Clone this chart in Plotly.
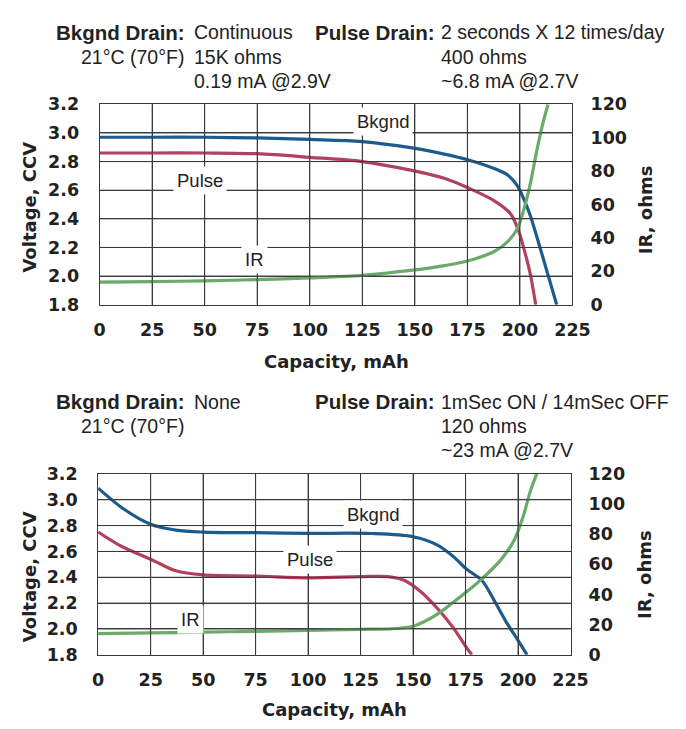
import plotly.graph_objects as go

W, H = 686, 729

# ---------------- data: top chart (continuous background drain) ----------------
cap_top_bkgnd = [0, 25, 50, 75, 100, 125, 148, 164, 175.5, 188, 194.3, 198.8, 201.9, 205, 209.6, 217.5]
volt_top_bkgnd = [2.97, 2.97, 2.97, 2.965, 2.955, 2.94, 2.897, 2.852, 2.811, 2.75, 2.705, 2.63, 2.536, 2.42, 2.197, 1.8]

cap_top_pulse = [0, 25, 50, 75, 100, 125, 148, 164, 175.5, 188, 195.6, 199.5, 201.8, 204.9, 207.5]
volt_top_pulse = [2.86, 2.86, 2.86, 2.855, 2.83, 2.80, 2.74, 2.683, 2.615, 2.524, 2.434, 2.31, 2.197, 2.016, 1.8]

cap_top_ir = [0, 25, 50, 75, 100, 125, 148, 164, 175.5, 188, 194.3, 198.8, 201.9, 205, 208, 211.1, 213.4]
ir_top = [13.5, 13.8, 14.3, 15.0, 16.0, 17.5, 20.5, 23.4, 26.3, 32.0, 37.9, 45.6, 57.2, 72.8, 92.1, 109.5, 120]

# ---------------- data: bottom chart (no background drain) ----------------
cap_bot_bkgnd = [0, 12, 25, 37, 50, 75, 100, 130, 150, 161.4, 169, 175.5, 182.8, 188.9, 195, 200, 204.3]
volt_bot_bkgnd = [3.09, 2.93, 2.81, 2.765, 2.75, 2.745, 2.74, 2.739, 2.714, 2.651, 2.563, 2.463, 2.375, 2.213, 2.037, 1.912, 1.8]

cap_bot_pulse = [0, 11, 25, 37, 50, 75, 100, 125, 138, 146, 153.7, 161.4, 169, 175.2, 178]
volt_bot_pulse = [2.75, 2.64, 2.54, 2.45, 2.418, 2.41, 2.395, 2.405, 2.405, 2.375, 2.288, 2.162, 2.012, 1.862, 1.8]

cap_bot_ir = [0, 25, 50, 75, 100, 125, 140, 150, 156, 161.4, 175.5, 182.8, 192, 198.2, 202.8, 205.8, 208.9]
ir_bot = [14.1, 14.5, 15.0, 15.6, 16.2, 16.9, 17.3, 19.0, 22.5, 26.8, 41.8, 50.4, 63.3, 76.2, 93.4, 108.4, 120]

x_ticks = [0, 25, 50, 75, 100, 125, 150, 175, 200, 225]
volt_ticks = [1.8, 2.0, 2.2, 2.4, 2.6, 2.8, 3.0, 3.2]
ir_ticks = [0, 20, 40, 60, 80, 100, 120]

BLUE = "#1b5b8e"
RED = "#b2415e"
GREEN = "#6aaa6a"
GRID = "#3a3a3a"
TXT = "#222222"

fig = go.Figure()


def add(x, y, color, xa, ya):
    fig.add_trace(go.Scatter(
        x=x, y=y, mode="lines",
        line=dict(color=color, width=3.2, shape="spline", smoothing=0.9),
        xaxis=xa, yaxis=ya, showlegend=False))


add(cap_top_pulse, volt_top_pulse, RED, "x", "y")
add(cap_top_bkgnd, volt_top_bkgnd, BLUE, "x", "y")
add(cap_bot_pulse, volt_bot_pulse, RED, "x2", "y3")
add(cap_bot_bkgnd, volt_bot_bkgnd, BLUE, "x2", "y3")
add(cap_top_ir, ir_top, GREEN, "x", "y2")
add(cap_bot_ir, ir_bot, GREEN, "x2", "y4")

TF = dict(family="DejaVu Sans", size=17.5, color=TXT, weight="bold")


def px(v):
    return v / W


def py(v):
    return 1 - v / H


def xaxis(domain, anchor):
    return dict(domain=domain, anchor=anchor, range=[0, 225], tickvals=x_ticks,
                showgrid=True, gridcolor=GRID, gridwidth=1, zeroline=False,
                showline=True, linecolor=GRID, linewidth=1, mirror=True,
                ticks="", tickfont=TF, ticklabelstandoff=9, fixedrange=True)


def vaxis(domain, anchor):
    return dict(domain=domain, anchor=anchor, range=[1.8, 3.2], tickvals=volt_ticks,
                tickformat=".1f", showgrid=True, gridcolor=GRID, gridwidth=1,
                zeroline=False, showline=True, linecolor=GRID, linewidth=1, mirror=True,
                ticks="", tickfont=TF, ticklabelstandoff=16, fixedrange=True)


def iraxis(over, anchor):
    return dict(overlaying=over, anchor=anchor, side="right", range=[0, 120],
                tickvals=ir_ticks, showgrid=False, zeroline=False,
                ticks="", tickfont=TF, ticklabelstandoff=17, fixedrange=True)


fig.update_layout(
    width=W, height=H, margin=dict(l=0, r=0, t=0, b=0),
    paper_bgcolor="white", plot_bgcolor="rgba(0,0,0,0)", showlegend=False,
    xaxis=xaxis([px(97), px(587)], "y"), yaxis=vaxis([py(303), py(97)], "x"),
    yaxis2=iraxis("y", "x"),
    xaxis2=xaxis([px(95.5), px(585)], "y3"), yaxis3=vaxis([py(663), py(477)], "x2"),
    yaxis4=iraxis("y3", "x2"),
)

# grid lines at the tick values, drawn through the axes' own scales
shapes = []
for xr, yr in [("x", "y"), ("x2", "y3")]:
    for v in x_ticks[1:-1]:
        shapes.append(dict(type="line", xref=xr, yref=f"{yr} domain", x0=v, x1=v, y0=0, y1=1,
                           line=dict(color=GRID, width=1), layer="above"))
    for v in volt_ticks[1:-1]:
        shapes.append(dict(type="line", xref=f"{xr} domain", yref=yr, x0=0, x1=1, y0=v, y1=v,
                           line=dict(color=GRID, width=1), layer="above"))
fig.update_layout(shapes=shapes)

HF = dict(family="Liberation Sans", size=19.5, color=TXT)
anns = []


def txt(t, x, y, anchor="left", bold=False, size=None, font=None, angle=0):
    f = dict(font or HF)
    if bold:
        f["weight"] = "bold"
    if size:
        f["size"] = size
    anns.append(dict(text=t, x=px(x), y=py(y), xref="paper", yref="paper",
                     xanchor=anchor, yanchor="middle", showarrow=False,
                     font=f, textangle=angle))


# header, top chart
txt("Bkgnd Drain:", 188, 23, "right", bold=True, size=20.5)
txt("Continuous", 193, 23)
txt("21°C (70°F)", 187, 48, "right")
txt("15K ohms", 193, 48)
txt("0.19 mA @2.9V", 193, 73)
txt("Pulse Drain:", 447, 23, "right", bold=True, size=20.5)
txt("2 seconds X 12 times/day", 449, 23)
txt("400 ohms", 449, 48)
txt("~6.8 mA @2.7V", 449, 73)

# header, bottom chart
txt("Bkgnd Drain:", 188, 403, "right", bold=True, size=20.5)
txt("None", 193, 403)
txt("21°C (70°F)", 187, 428, "right")
txt("Pulse Drain:", 447, 403, "right", bold=True, size=20.5)
txt("1mSec ON / 14mSec OFF", 449, 403)
txt("120 ohms", 449, 428)
txt("~23 mA @2.7V", 449, 452)

# axis titles
TT = dict(family="DejaVu Sans", size=18, color=TXT)
txt("Voltage, CCV", 24, 203, "center", bold=True, font=TT, angle=-90)
txt("IR, ohms", 663, 205, "center", bold=True, font=TT, angle=-90)
txt("Capacity, mAh", 342, 361, "center", bold=True, font=TT)
txt("Voltage, CCV", 24, 583, "center", bold=True, font=TT, angle=-90)
txt("IR, ohms", 661, 580, "center", bold=True, font=TT, angle=-90)
txt("Capacity, mAh", 340, 719, "center", bold=True, font=TT)

# in-plot curve labels (white boxes interrupt the grid, as in the original)
LF = dict(family="Liberation Sans", size=18.5, color=TXT)
for (t, xv, yv, xr, yr) in [
    ("Bkgnd", 135, 3.08, "x", "y"),
    ("Pulse", 48, 2.67, "x", "y"),
    ("IR", 73.5, 2.115, "x", "y"),
    ("Bkgnd", 131, 2.884, "x2", "y3"),
    ("Pulse", 101, 2.54, "x2", "y3"),
    ("IR", 44, 2.07, "x2", "y3"),
]:
    anns.append(dict(text=t, x=xv, y=yv, xref=xr, yref=yr, showarrow=False,
                     font=LF, bgcolor="white", borderpad=3))

fig.update_layout(annotations=anns)

fig.write_html(
    "out.html",
    config={"displayModeBar": False},
    post_script="document.documentElement.style.margin='0';"
                "document.body.style.margin='0';document.body.style.overflow='hidden';",
)
